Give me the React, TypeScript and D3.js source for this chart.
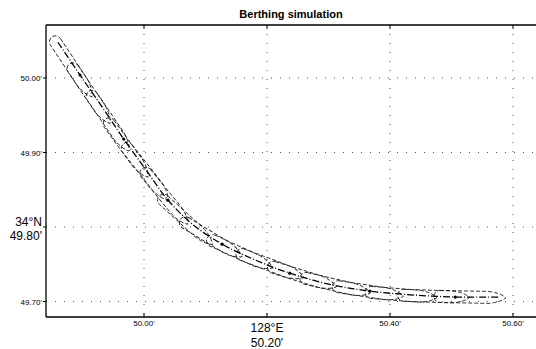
import React from "react";
import * as d3 from "d3";

// Track (centre line) in minutes of arc: lon = 128°E + x', lat = 34°N + y'
const trackLon = [49.86, 49.896, 49.932, 49.967, 50.003, 50.039, 50.08, 50.127, 50.18, 50.237, 50.302, 50.367, 50.433, 50.506, 50.579];
const trackLat = [50.048, 50.004, 49.961, 49.918, 49.877, 49.836, 49.803, 49.777, 49.756, 49.738, 49.723, 49.714, 49.709, 49.706, 49.706];

// Ship snapshot centres
const shipLon = [49.883, 49.912, 49.943, 49.972, 50.003, 50.034, 50.068, 50.109, 50.156, 50.205, 50.257, 50.311, 50.364, 50.418, 50.471, 50.53];
const shipLat = [50.015, 49.979, 49.942, 49.906, 49.874, 49.841, 49.809, 49.785, 49.765, 49.749, 49.734, 49.722, 49.714, 49.709, 49.707, 49.706];

const xTicks = [50.0, 50.2, 50.4, 50.6];
const yTicks = [50.0, 49.9, 49.8, 49.7];
const xTickLabels = ["50.00'", "50.20'", "50.40'", "50.60'"];
const yTickLabels = ["50.00'", "49.90'", "49.80'", "49.70'"];
const title = "Berthing simulation";

const W = 536, H = 349;
const left = 46, top = 25, bottom = 317, right = 536;

export default function App() {
  const x = d3.scaleLinear().domain([50.0, 50.2]).range([144, 267]);
  const y = d3.scaleLinear().domain([50.0, 49.9]).range([78, 152.5]);

  const trackPts = trackLon.map((lo, i) => [x(lo), y(trackLat[i])] as [number, number]);
  const line = d3.line().curve(d3.curveCatmullRom)(trackPts) || "";

  const L = 72, Wd = 12;
  const shipPath = `M ${-L / 2 + 6},${-Wd / 2} L ${L / 4},${-Wd / 2} Q ${L / 2 - 6},${-Wd / 2 + 1} ${L / 2},0 Q ${L / 2 - 6},${Wd / 2 - 1} ${L / 4},${Wd / 2} L ${-L / 2 + 6},${Wd / 2} A 6 6 0 0 1 ${-L / 2 + 6},${-Wd / 2} Z`;

  const ships = shipLon.map((lo, i) => {
    const cx = x(lo), cy = y(shipLat[i]);
    const a = i === 0 ? 0 : i === shipLon.length - 1 ? i - 1 : i - 1;
    const b = i === 0 ? 1 : i === shipLon.length - 1 ? i : i + 1;
    const dx = x(shipLon[b]) - x(shipLon[a]);
    const dy = y(shipLat[b]) - y(shipLat[a]);
    const ang = (Math.atan2(dy, dx) * 180) / Math.PI;
    return { cx, cy, ang };
  });

  return (
    <svg width={W} height={H} style={{ position: "absolute", left: 0, top: 0, background: "#fff" }} fontFamily="Arial, Liberation Sans, sans-serif">
      <rect x={0} y={0} width={W} height={H} fill="#fff" />
      <text x={291} y={18} textAnchor="middle" fontSize={11} fontWeight="bold">{title}</text>
      {/* grid */}
      {xTicks.map((t, i) => (
        <line key={"gx" + i} x1={x(t)} x2={x(t)} y1={top} y2={bottom} stroke="#555" strokeWidth={1} strokeDasharray="1,8" />
      ))}
      {yTicks.map((t, i) => (
        <line key={"gy" + i} x1={left} x2={right} y1={y(t)} y2={y(t)} stroke="#555" strokeWidth={1} strokeDasharray="1,8" />
      ))}
      {/* frame */}
      <line x1={left} x2={left} y1={top} y2={bottom} stroke="#000" strokeWidth={1.3} />
      <line x1={left} x2={right} y1={bottom} y2={bottom} stroke="#000" strokeWidth={1.3} />
      <line x1={left} x2={right} y1={top} y2={top} stroke="#000" strokeWidth={1.3} />
      {xTicks.map((t, i) => (
        <g key={"tx" + i}>
          <line x1={x(t)} x2={x(t)} y1={bottom} y2={bottom - 4} stroke="#000" />
          <line x1={x(t)} x2={x(t)} y1={top} y2={top + 4} stroke="#000" />
        </g>
      ))}
      {yTicks.map((t, i) => (
        <line key={"ty" + i} x1={left - 3} x2={left} y1={y(t)} y2={y(t)} stroke="#000" />
      ))}
      {/* tick labels */}
      {xTicks.map((t, i) =>
        i === 1 ? (
          <g key={"lx" + i}>
            <text x={x(t)} y={332} textAnchor="middle" fontSize={12}>128°E</text>
            <text x={x(t)} y={347} textAnchor="middle" fontSize={12}>{xTickLabels[i]}</text>
          </g>
        ) : (
          <text key={"lx" + i} x={x(t)} y={326} textAnchor="middle" fontSize={8}>{xTickLabels[i]}</text>
        )
      )}
      {yTicks.map((t, i) =>
        i === 2 ? (
          <g key={"ly" + i}>
            <text x={42} y={226} textAnchor="end" fontSize={12}>34°N</text>
            <text x={42} y={240} textAnchor="end" fontSize={12}>{yTickLabels[i]}</text>
          </g>
        ) : (
          <text key={"ly" + i} x={42} y={y(t) + 3} textAnchor="end" fontSize={8}>{yTickLabels[i]}</text>
        )
      )}
      {/* ships */}
      {ships.map((s, i) => (
        <path key={"s" + i} d={shipPath} transform={`translate(${s.cx},${s.cy}) rotate(${s.ang})`} fill="none" stroke="#222" strokeWidth={0.9} strokeDasharray="4,2" />
      ))}
      {/* track */}
      <path d={line} fill="none" stroke="#000" strokeWidth={1.3} strokeDasharray="7,2,1,2" />
      {trackPts.filter((_, i) => i % 2 === 1).map((p, i) => (
        <circle key={"c" + i} cx={p[0]} cy={p[1]} r={1.6} fill="#000" />
      ))}
    </svg>
  );
}
